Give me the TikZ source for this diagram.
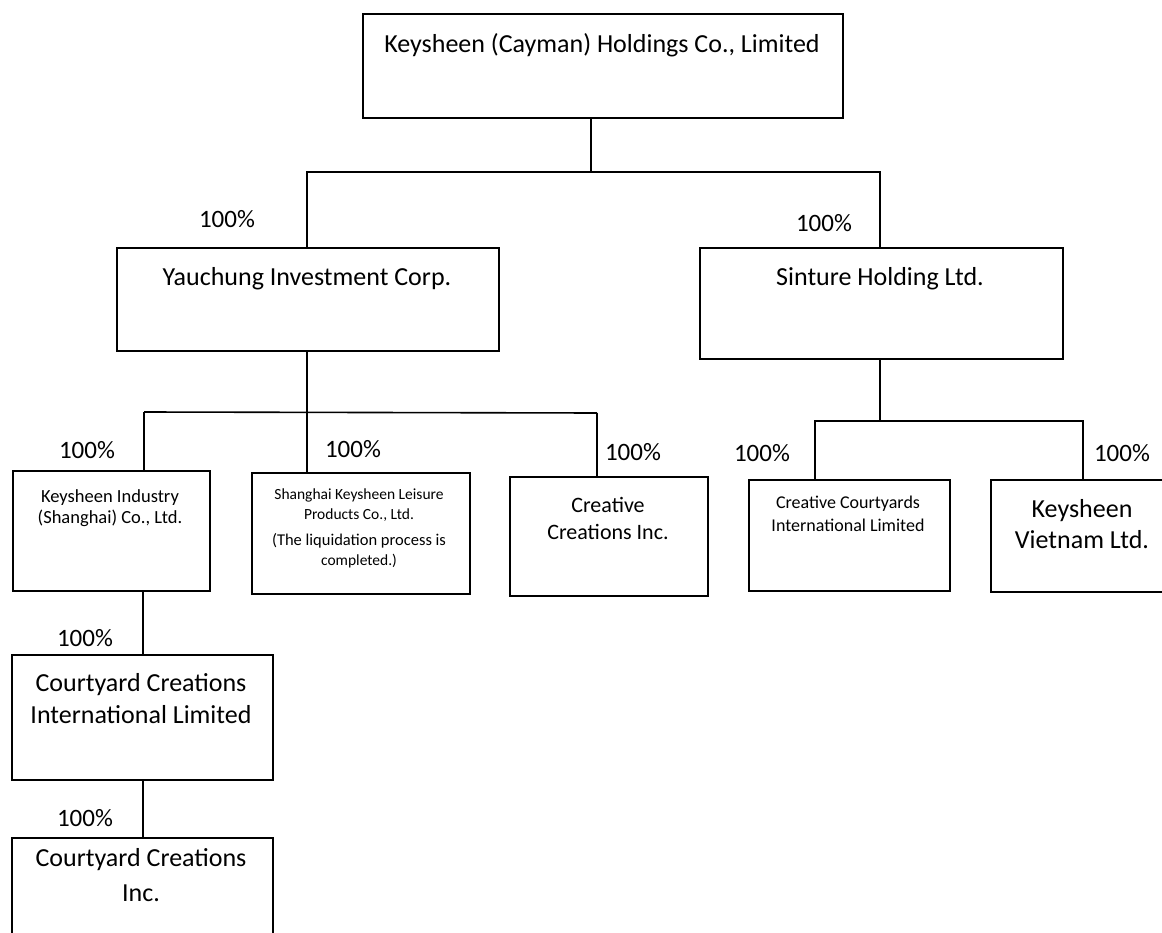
\documentclass[tikz,border=0pt]{standalone}
\usepackage{fontspec}
\setmainfont{Carlito}
\begin{document}
\begin{tikzpicture}[x=1pt,y=-1pt,
  box/.style={draw=black, line width=1.8pt, inner sep=0pt, anchor=north west},
  conn/.style={draw=black, line width=1.6pt},
  txt/.style={anchor=north, inner sep=0pt, align=center},
  big/.style={font=\fontsize{26}{32}\selectfont},
  pct/.style={inner sep=0pt, font=\fontsize{25}{30}\selectfont}]
\useasboundingbox (0,0) rectangle (1162,933);
\clip (0,0) rectangle (1162,933);
% boxes
\node[box, minimum width=480pt, minimum height=104pt] (top) at (362,13) {};
\node[box, minimum width=382pt, minimum height=103pt] (yau) at (116,247) {};
\node[box, minimum width=363pt, minimum height=111pt] (sin) at (699,247) {};
\node[box, minimum width=197pt, minimum height=120pt] (ki)  at (12,470) {};
\node[box, minimum width=218pt, minimum height=121pt] (sh)  at (251,472) {};
\node[box, minimum width=198pt, minimum height=119pt] (cc)  at (509,476) {};
\node[box, minimum width=201pt, minimum height=111pt] (cci) at (748,479) {};
\node[box, minimum width=184pt, minimum height=112pt] (kv)  at (990,479) {};
\node[box, minimum width=261pt, minimum height=125pt] (cx)  at (11,654) {};
\node[box, minimum width=261pt, minimum height=125pt] (cxi) at (11,837) {};
% texts
\node[txt, big] (topt) at (602,33) {Keysheen (Cayman) Holdings Co., Limited};
\node[txt, big] (yaut) at (307,267) {Yauchung Investment Corp.};
\node[txt, big] (sint) at (880,267) {Sinture Holding Ltd.};
\node[txt, font=\fontsize{18.5}{21}\selectfont] (kit) at (110,489) {Keysheen Industry\\(Shanghai) Co., Ltd.};
\node[txt, font=\fontsize{15.5}{20}\selectfont] (sht) at (359,489) {Shanghai Keysheen Leisure\\Products Co., Ltd.\\[6pt]\fontsize{16.5}{20}\selectfont (The liquidation process is\\completed.)};
\node[txt, font=\fontsize{22}{27}\selectfont] (cct) at (608,497) {Creative\\Creations Inc.};
\node[txt, font=\fontsize{18}{23}\selectfont] (ccit) at (848,496) {Creative Courtyards\\International Limited};
\node[txt, font=\fontsize{26}{31}\selectfont] (kvt) at (1082,499) {Keysheen\\Vietnam Ltd.};
\node[txt, big] (cxt) at (141,673) {Courtyard Creations\\International Limited};
\node[txt, font=\fontsize{26}{35}\selectfont] (cxit) at (141,848) {Courtyard Creations\\Inc.};
% connectors level 1
\coordinate (j0) at (591,172);
\coordinate (jL) at (307,172);
\coordinate (jR) at (880,172);
\draw[conn] (top.south -| j0) -- (j0);
\draw[conn] (yau.north -| jL) -- (jL) -- (jR) -- (sin.north -| jR);
% connectors level 2 left
\coordinate (k0) at (307,412);
\coordinate (kL) at (144,412);
\coordinate (kR) at (597,413);
\draw[conn] (yau.south -| k0) -- (k0);
\draw[conn] (kL) -- (kR);
\draw[conn] (ki.north -| kL) -- (kL);
\draw[conn] (sh.north -| k0) -- (k0);
\draw[conn] (cc.north -| kR) -- (kR);
% connectors level 2 right
\coordinate (m0) at (880,421);
\coordinate (mL) at (815,421);
\coordinate (mR) at (1083,421);
\draw[conn] (sin.south -| m0) -- (m0);
\draw[conn] (cci.north -| mL) -- (mL) -- (mR) -- (kv.north -| mR);
% bottom chain
\coordinate (n1) at (143,600);
\draw[conn] (ki.south -| n1) -- (cx.north -| n1);
\draw[conn] (cx.south -| n1) -- (cxi.north -| n1);
% percentages
\node[pct] (p1) at (227,219) {100\%};
\node[pct] (p2) at (824,223) {100\%};
\node[pct] (p3) at (87,450) {100\%};
\node[pct] (p4) at (353,449) {100\%};
\node[pct] (p5) at (633,452) {100\%};
\node[pct] (p6) at (762,453) {100\%};
\node[pct] (p7) at (1122,453) {100\%};
\node[pct] (p8) at (85,638) {100\%};
\node[pct] (p9) at (85,818) {100\%};
\end{tikzpicture}
\end{document}
